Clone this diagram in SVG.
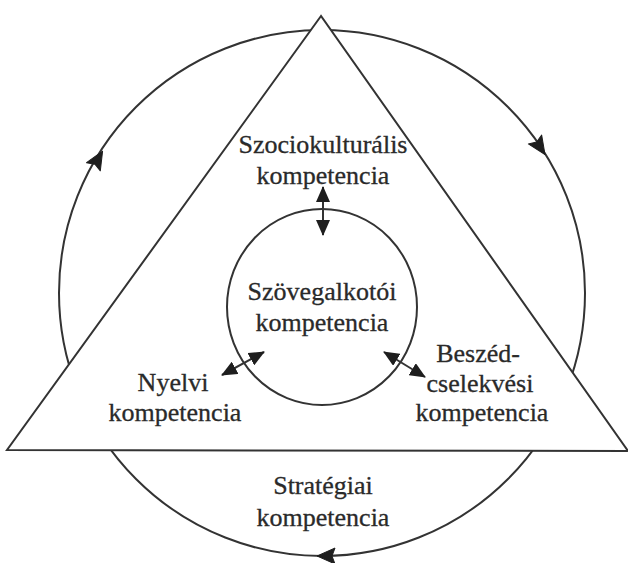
<svg xmlns="http://www.w3.org/2000/svg" width="628" height="563" viewBox="0 0 628 563">
<defs>
<style>
.ln{fill:none;stroke:#333;stroke-width:2}
.t{font-family:"Liberation Serif","Times New Roman",serif;font-size:26px;fill:#2a2a2a;stroke:#2a2a2a;stroke-width:0.3;text-anchor:middle}
.ah{fill:#1e1e1e;stroke:#1e1e1e;stroke-width:1;stroke-linejoin:round}
</style>
<polygon id="ah" points="9,0 -9,-8 -6,0 -9,8"/>
<marker id="m" viewBox="0 0 16 14" refX="15" refY="7" markerWidth="16" markerHeight="14" markerUnits="userSpaceOnUse" orient="auto-start-reverse">
<path d="M0,0 L16,7 L0,14 Z" fill="#1e1e1e"/>
</marker>
</defs>
<rect width="628" height="563" fill="#fff"/>
<g id="cycle">
<circle class="ln" cx="322" cy="293" r="263"/>
<use href="#ah" class="ah" transform="translate(98,159) rotate(-59.4)"/>
<use href="#ah" class="ah" transform="translate(540,147) rotate(56.3)"/>
<use href="#ah" class="ah" transform="translate(326,556) rotate(180)"/>
</g>
<g id="triangle">
<polygon points="321,16 7,450 628,451" fill="#fff" stroke="#333" stroke-width="2"/>
</g>
<g id="inner">
<ellipse class="ln" cx="322" cy="307" rx="95" ry="98"/>
</g>
<g id="connectors">
<line class="ln" x1="323" y1="187" x2="323" y2="235" marker-start="url(#m)" marker-end="url(#m)"/>
<line class="ln" x1="222" y1="375" x2="264" y2="352" marker-start="url(#m)" marker-end="url(#m)"/>
<line class="ln" x1="384" y1="352" x2="425" y2="377" marker-start="url(#m)" marker-end="url(#m)"/>
</g>
<g id="szocio"><text class="t" x="323" y="153">Szociokulturális</text><text class="t" x="323" y="184">kompetencia</text></g>
<g id="szoveg"><text class="t" x="322" y="300">Szövegalkotói</text><text class="t" x="322" y="331">kompetencia</text></g>
<g id="nyelvi"><text class="t" x="173" y="391">Nyelvi</text><text class="t" x="175" y="421">kompetencia</text></g>
<g id="beszed"><text class="t" x="478" y="362">Beszéd-</text><text class="t" x="480" y="392">cselekvési</text><text class="t" x="482" y="421">kompetencia</text></g>
<g id="strat"><text class="t" x="323" y="494">Stratégiai</text><text class="t" x="323" y="526">kompetencia</text></g>
</svg>
